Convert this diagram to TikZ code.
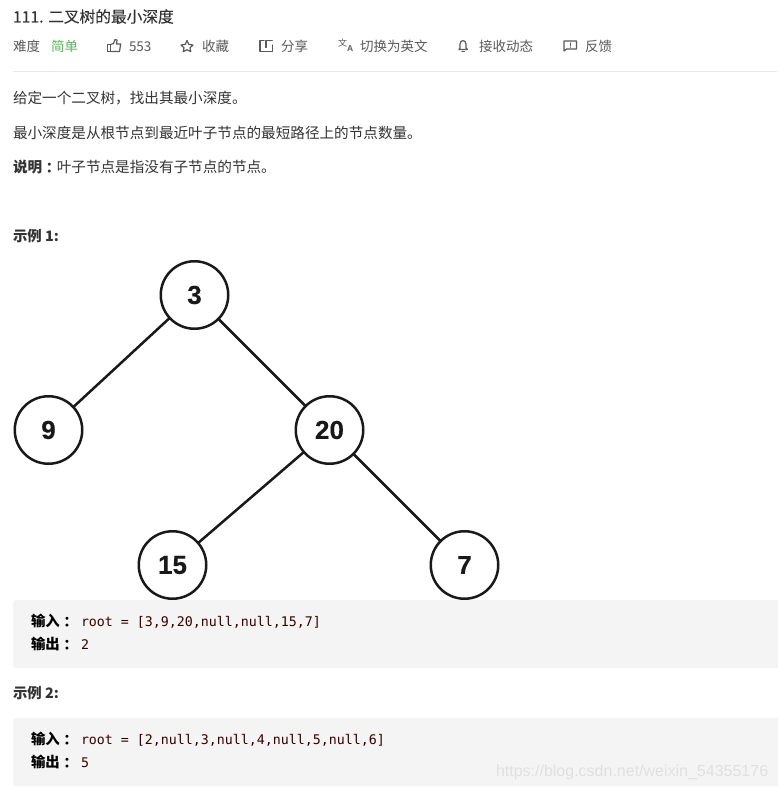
\documentclass[tikz,border=0pt]{standalone}
\usepackage{fontspec}
\setmainfont{Noto Sans CJK SC}
\newfontfamily\cjktc{Noto Sans CJK TC}
\newfontfamily\titlefont[FakeBold=0.15]{Noto Sans CJK SC}
\newfontfamily\codefont{DejaVu Sans Mono}
\newfontfamily\numfont{Liberation Sans}
\newfontfamily\treefont[FakeBold=0.25]{Liberation Sans Bold}
\definecolor{ink}{HTML}{333333}
\definecolor{meta}{HTML}{5A5A5A}
\definecolor{easy}{HTML}{5CB85C}
\definecolor{panel}{HTML}{F4F4F4}
\definecolor{rulecol}{HTML}{E8E8E8}
\definecolor{mark}{HTML}{E0E0E0}
\newcommand{\fs}[1]{\fontsize{#1}{#1}\selectfont}
\newcommand{\tcolon}{{\cjktc\raisebox{-1pt}{：}}}
\tikzset{
  txt/.style={anchor=base west,inner sep=0pt,outer sep=0pt},
  titletxt/.style={txt,text=ink,font=\fs{15.7}\titlefont},
  metatxt/.style={txt,text=meta,font=\fs{13.5}},
  bodytxt/.style={txt,text=ink,font=\fs{14.6}},
  headtxt/.style={txt,text=ink,font=\fs{14.4}\bfseries},
  labeltxt/.style={txt,text=black,font=\fs{14.4}\bfseries},
  codetxt/.style={txt,text=black!80!red,font=\fs{13.28}\codefont},
  treenode/.style={circle,draw=black!90,fill=white,line width=2.5pt,minimum size=67.5pt,inner sep=0pt,outer sep=0pt,font=\fs{26}\treefont,text=black!90},
  treeedge/.style={draw=black!90,line width=2.5pt},
  panelbox/.style={fill=panel,rounded corners=3pt},
  iconline/.style={draw=meta,line width=1.2pt,line join=round,line cap=round}
}
\begin{document}
\begin{tikzpicture}[x=1pt,y=-1pt]
\useasboundingbox (0,0) rectangle (777,789);
\fill[white] (0,0) rectangle (777,789);
% header
\node[titletxt] (title) at (13,22.5) {111. 二叉树的最小深度};
\node[metatxt] (difficulty) at (13,52) {难度};
\node[metatxt,text=easy] (easylabel) at (51,52) {简单};
\node[metatxt] (likes) at (129,52) {553};
\node[metatxt] (fav) at (202,52) {收藏};
\node[metatxt] (share) at (281,52) {分享};
\node[metatxt] (lang) at (360,52) {切换为英文};
\node[metatxt] (sub) at (479,52) {接收动态};
\node[metatxt] (feedback) at (585,52) {反馈};
% thumb icon
\draw[iconline] (107.5,44.5) rectangle (110.5,51.5);
\draw[iconline] (110.5,44.5) -- (113.5,43.5) -- (115,39.5) -- (117,40) -- (116.5,44) -- (120.7,44) -- (119.5,51.5) -- (110.5,51.5);
% star icon
\draw[iconline] (187,40.5) -- (188.8,44.4) -- (193,45) -- (190,47.8) -- (190.8,51.7) -- (187,49.7) -- (183.2,51.7) -- (184,47.8) -- (181,45) -- (185.2,44.4) -- cycle;
% share icon
\draw[iconline] (264,40.7) -- (260,40.7) -- (260,51.5) -- (272.3,51.5) -- (272.3,45);
\draw[iconline] (266,47.5) -- (266,40.7) -- (272.3,40.7);
% translate icon
\node[anchor=base west,inner sep=0pt,text=meta,font=\fs{9}] (langicon) at (338,46.5) {文\raisebox{-5pt}{\fs{8.5}\numfont\bfseries A}};
% bell icon
\draw[iconline] (459,49.5) -- (460,48) -- (460,44) .. controls (460,39.5) and (466,39.5) .. (466,44) -- (466,48) -- (467.5,49.5) -- cycle;
\draw[iconline] (462,51.5) -- (464.5,51.5);
% feedback icon
\draw[iconline] (564,51) -- (564,41) -- (576.5,41) -- (576.5,49) -- (566.5,49) -- cycle;
\draw[iconline] (570.3,43) -- (570.3,45.5);
\draw[iconline] (570.3,47) -- (570.3,47.2);
\draw[rulecol,line width=1pt] (13,71.5) -- (777,71.5);
% body
\node[bodytxt] (p1) at (13,103) {给定一个二叉树，找出其最小深度。};
\node[bodytxt] (p2) at (13,139) {最小深度是从根节点到最近叶子节点的最短路径上的节点数量。};
\node[bodytxt] (p3) at (13,172.5) {\textbf{说明\tcolon}叶子节点是指没有子节点的节点。};
\node[headtxt] (ex1) at (13,241) {示例 1:};
% tree
\node[treenode] (n3) at (194.5,295) {3};
\node[treenode] (n9) at (48.5,430) {9};
\node[treenode] (n20) at (329.5,430) {20};
\node[treenode] (n15) at (172.5,565) {15};
\node[treenode] (n7) at (464.5,565) {7};
\draw[treeedge] (n3) -- (n9);
\draw[treeedge] (n3) -- (n20);
\draw[treeedge] (n20) -- (n15);
\draw[treeedge] (n20) -- (n7);
% example 1 panel
\fill[panelbox] (13,600) rectangle (790,668);
\node[labeltxt] (in1) at (31,626.5) {输入\tcolon};
\node[codetxt] (code1) at (81,626.5) {root = [3,9,20,null,null,15,7]};
\node[labeltxt] (out1) at (31,649.5) {输出\tcolon};
\node[codetxt] (res1) at (81,649.5) {2};
% example 2
\node[headtxt] (ex2) at (13,698) {示例 2:};
\fill[panelbox] (13,718) rectangle (790,786);
\node[labeltxt] (in2) at (31,744.5) {输入\tcolon};
\node[codetxt] (code2) at (81,744.5) {root = [2,null,3,null,4,null,5,null,6]};
\node[labeltxt] (out2) at (31,767.5) {输出\tcolon};
\node[codetxt] (res2) at (81,767.5) {5};
% watermark
\node[txt,text=mark,font=\fs{16}\numfont] (wm) at (496,776) {https://blog.csdn.net/weixin\_54355176};
\end{tikzpicture}
\end{document}
